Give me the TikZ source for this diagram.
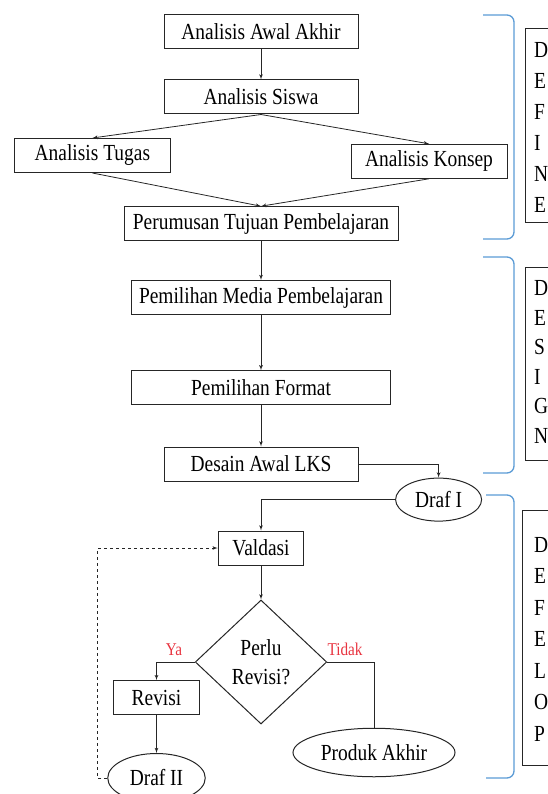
\documentclass[tikz,border=0pt]{standalone}
\usepackage{fontspec}
\setmainfont{Liberation Serif}[FakeStretch=0.845]
\usepackage{tikz}
\usetikzlibrary{shapes,arrows,calc}
\definecolor{bracketblue}{RGB}{91,155,213}
\definecolor{labelred}{RGB}{232,52,64}
\tikzstyle{block} = [rectangle, draw=black!85, line width=1pt, text centered, minimum height=34pt, inner sep=0pt]
\tikzstyle{draf} = [ellipse, draw=black!85, line width=1pt, text centered, inner sep=0pt]
\tikzstyle{decision} = [diamond, draw=black!85, line width=1pt, align=center, inner sep=0pt, minimum width=131.5pt, minimum height=124pt]
\tikzstyle{line} = [draw=black!85, line width=0.8pt, -latex']
\tikzstyle{answer} = [text=labelred, font=\fontsize{18}{20}\selectfont]
\tikzstyle{phase} = [align=left, anchor=west, inner sep=0pt, font=\fontsize{23}{31}\selectfont]
\tikzstyle{phasebox} = [draw=black!85, line width=1pt]
\tikzstyle{bracket} = [draw=bracketblue, line width=1.3pt, rounded corners=7pt]

\begin{document}
\begin{tikzpicture}[node distance=60pt, font=\fontsize{23}{29}\selectfont]
		\useasboundingbox (0,0) rectangle (548pt,-794pt);
		% Place nodes
		\node [block, minimum width=194pt] (awal) at (261pt,-31.7pt) {Analisis Awal Akhir};
		\node [block, minimum width=194pt, below of=awal, yshift=-5.3pt] (siswa) {Analisis Siswa};
		\node [block, minimum width=155.5pt, below of=siswa, xshift=-168.6pt, yshift=1.5pt] (tugas) {Analisis Tugas};
		\node [block, minimum width=156pt, below of=siswa, xshift=168pt, yshift=-4.3pt] (konsep) {Analisis Konsep};
		\node [block, minimum width=274pt, below of=siswa, yshift=-66.7pt] (tujuan) {Perumusan Tujuan Pembelajaran};
		
		\node [block, minimum width=259pt, below of=tujuan, yshift=-13.8pt] (media) {Pemilihan Media Pembelajaran};
		\node [block, minimum width=259pt, below of=media, yshift=-30.3pt] (format) {Pemilihan Format};
		\node [block, minimum width=194pt, below of=format, yshift=-16.2pt] (desain) {Desain Awal LKS};
		\node [draf, minimum width=86pt, minimum height=43pt, right of=desain, xshift=117.6pt, yshift=-35.6pt] (drafsatu) {Draf I};
		
		\node [block, minimum width=85.5pt, below of=desain, yshift=-24pt] (valdasi) {Valdasi};
		\node [decision, below of=valdasi, yshift=-54pt] (perlu) {Perlu\\Revisi?};
		\node [block, minimum width=85.5pt, left of=perlu, xshift=-44.5pt, yshift=-35.7pt] (revisi) {Revisi};
		\node [draf, minimum width=162pt, minimum height=48.5pt, right of=perlu, xshift=53pt, yshift=-90.5pt] (produk) {Produk Akhir};
		\node [draf, minimum width=97.5pt, minimum height=49pt, below of=revisi, yshift=-20.3pt] (drafdua) {Draf II};
		\coordinate (balik) at ($(valdasi.west)+(-120pt,0)$);
		
		% Phase boxes
		\node [phase] (define) at (534pt,-127.5pt) {D\\E\\F\\I\\N\\E};
		\node [phase, font=\fontsize{23}{29.5}\selectfont] (design) at (534pt,-362pt) {D\\E\\S\\I\\G\\N};
		\node [phase, font=\fontsize{23}{31.5}\selectfont] (develop) at (534pt,-639pt) {D\\E\\F\\E\\L\\O\\P};
		\draw [phasebox] (525pt,-29pt) rectangle (565pt,-223pt);
		\draw [phasebox] (525pt,-267pt) rectangle (565pt,-460pt);
		\draw [phasebox] (522.5pt,-510.5pt) rectangle (565pt,-765pt);
		\draw [bracket] (483pt,-15pt) -- (514pt,-15pt) -- (514pt,-239pt) -- (483pt,-239pt);
		\draw [bracket] (483pt,-257pt) -- (514pt,-257pt) -- (514pt,-473pt) -- (483pt,-473pt);
		\draw [bracket] (486pt,-495pt) -- (514pt,-495pt) -- (514pt,-778pt) -- (486pt,-778pt);
		
		% Draw edges
		\path [line] (awal) -- (siswa);
		\path [line] (siswa.south) -- (tugas.north);
		\path [line] (siswa.south) -- (konsep.north);
		\path [line] (tugas.south) -- (tujuan.north);
		\path [line] (konsep.south) -- (tujuan.north);
		\path [line] (tujuan) -- (media);
		\path [line] (media) -- (format);
		\path [line] (format) -- (desain);
		\path [line] (desain) -| (drafsatu);
		\path [line] (drafsatu) -| (valdasi);
		\path [line] (valdasi) -- (perlu);
		\path [line] (perlu) -| node [answer, pos=0.27, above=3pt] {Ya} (revisi);
		\draw [black!85, line width=0.8pt] (perlu) -| node [answer, pos=0.19, above=3pt] {Tidak} (produk);
		\path [line] (revisi) -- (drafdua);
		\path [line, dashed] (drafdua) -| (balik) -- (valdasi);
	\end{tikzpicture}
\end{document}
